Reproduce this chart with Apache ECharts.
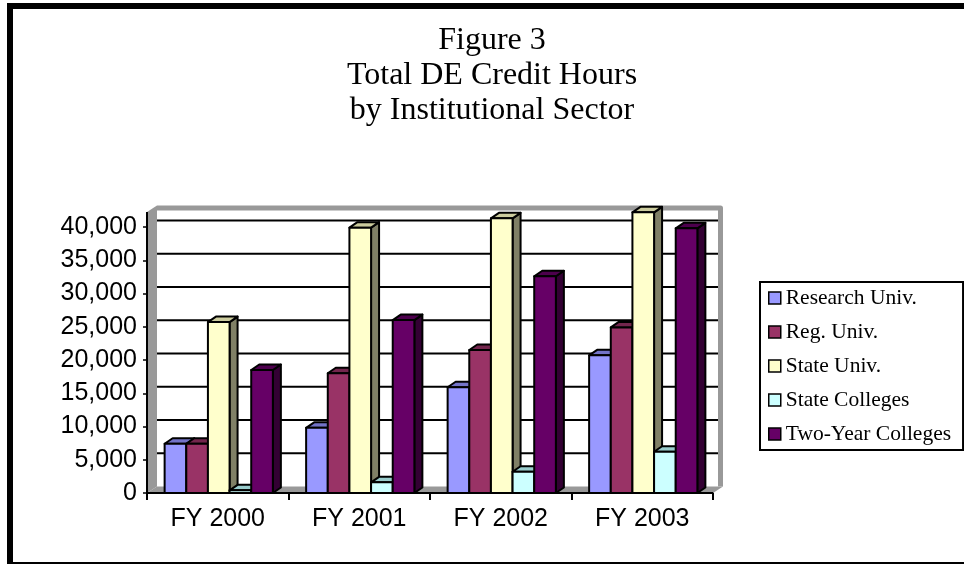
<!DOCTYPE html>
<html>
<head>
<meta charset="utf-8">
<script src="https://cdn.jsdelivr.net/npm/echarts@6/dist/echarts.min.js"></script>
<style>
  html, body { margin: 0; padding: 0; background: #fff; }
  #chart { width: 964px; height: 564px; }
</style>
</head>
<body>
<div id="chart"></div>
<script>
const categories = ['FY 2000', 'FY 2001', 'FY 2002', 'FY 2003'];
const sectorNames = ['Research Univ.', 'Reg. Univ.', 'State Univ.', 'State Colleges', 'Two-Year Colleges'];

const researchUniv = [7400, 9800, 15900, 20700];
const regUniv = [7400, 18000, 21500, 24900];
const stateUniv = [25700, 39900, 41300, 42200];
const stateColleges = [400, 1600, 3200, 6200];
const twoYearColleges = [18500, 26000, 32600, 39800];

const yTickLabels = ['0', '5,000', '10,000', '15,000', '20,000', '25,000', '30,000', '35,000', '40,000'];
const yStep = 5000;
const yMax = 40000;

// front face, top face, side face
const palette = [
  ['#9999FF', '#7373C8', '#5C5CA8'],
  ['#993366', '#73264D', '#4D1A33'],
  ['#FFFFCC', '#CCCC9E', '#808066'],
  ['#CCFFFF', '#99CCCC', '#669999'],
  ['#660066', '#4D004D', '#330033']
];
const sectorData = [researchUniv, regUniv, stateUniv, stateColleges, twoYearColleges];

const serif = '"Liberation Serif", "Times New Roman", serif';
const sans = '"Liberation Sans", Arial, sans-serif';

function renderWalls(params, api) {
  const band = api.size([1, 0])[0];
  const p0 = api.coord([0, 0]);
  const pn = api.coord([categories.length - 1, 0]);
  const xl = p0[0] - band / 2;
  const xr = pn[0] + band / 2;
  const yb = p0[1];
  const yt = api.coord([0, yMax])[1] - 15;
  const dx = 10, dy = -6.5;
  const children = [
    { type: 'rect', shape: { x: xl + dx, y: yt + dy, width: xr - xl, height: yb - yt }, style: { fill: '#fff' } }
  ];
  for (let v = yStep; v <= yMax; v += yStep) {
    const y = api.coord([0, v])[1];
    children.push({ type: 'line', shape: { x1: xl + dx, y1: y + dy, x2: xr + dx - 4, y2: y + dy }, style: { stroke: '#000', lineWidth: 2 } });
    children.push({ type: 'line', shape: { x1: xl, y1: y, x2: xl + 4, y2: y - 3 }, style: { stroke: '#000', lineWidth: 1 } });
  }
  children.push(
    { type: 'polyline', shape: { points: [[xl + dx, yt + dy + 2.5], [xr + dx - 2.5, yt + dy + 2.5], [xr + dx - 2.5, yb + dy]] },
      style: { stroke: '#999', lineWidth: 5, fill: null, lineJoin: 'round' } },
    { type: 'polygon', shape: { points: [[xl, yb], [xl, yt], [xl + dx, yt + dy], [xl + dx, yb + dy]] }, style: { fill: '#999' } },
    { type: 'polygon', shape: { points: [[xl, yb], [xr, yb], [xr + dx, yb + dy], [xl + dx, yb + dy]] }, style: { fill: '#999' } },
    { type: 'line', shape: { x1: xl, y1: yb, x2: xl, y2: yt }, style: { stroke: '#000', lineWidth: 2 } },
    { type: 'line', shape: { x1: xl, y1: yb, x2: xr, y2: yb }, style: { stroke: '#000', lineWidth: 2 } }
  );
  return { type: 'group', children: children };
}

function barRenderer(k) {
  return function (params, api) {
    const c = api.value(0);
    const v = api.value(1);
    const top = api.coord([c, v]);
    const base = api.coord([c, 0]);
    const band = api.size([1, 0])[0];
    const w = band * 0.153;
    const x0 = top[0] - 2.5 * w + k * w + 1;
    const dx = 8, dy = -5.5;
    const cols = palette[k];
    const line = { stroke: '#000', lineWidth: 2, lineJoin: 'round' };
    return {
      type: 'group',
      children: [
        { type: 'polygon', shape: { points: [[x0 + w, top[1]], [x0 + w + dx, top[1] + dy], [x0 + w + dx, base[1] + dy], [x0 + w, base[1]]] },
          style: Object.assign({ fill: cols[2] }, line) },
        { type: 'polygon', shape: { points: [[x0, top[1]], [x0 + dx, top[1] + dy], [x0 + w + dx, top[1] + dy], [x0 + w, top[1]]] },
          style: Object.assign({ fill: cols[1] }, line) },
        { type: 'rect', shape: { x: x0, y: top[1], width: w, height: base[1] - top[1] },
          style: Object.assign({ fill: cols[0] }, line) }
      ]
    };
  };
}

const series = [{
  name: 'walls',
  type: 'custom',
  silent: true,
  renderItem: renderWalls,
  data: [[0, 0]]
}];
sectorNames.forEach(function (name, k) {
  series.push({
    name: name,
    type: 'custom',
    renderItem: barRenderer(k),
    itemStyle: { color: palette[k][0], borderColor: '#000', borderWidth: 1.5 },
    encode: { x: 0, y: 1 },
    data: sectorData[k].map(function (v, i) { return [i, v]; })
  });
});

const option = {
  animation: false,
  backgroundColor: '#fff',
  title: {
    text: 'Figure 3\nTotal DE Credit Hours\nby Institutional Sector',
    left: 492,
    top: 23,
    textAlign: 'center',
    padding: 0,
    textStyle: { fontFamily: serif, fontSize: 32, fontWeight: 'normal', lineHeight: 35, color: '#000' }
  },
  legend: {
    data: sectorNames,
    orient: 'vertical',
    left: 760,
    top: 282,
    icon: 'rect',
    itemWidth: 12,
    itemHeight: 12,
    itemGap: 12,
    padding: [5, 12, 5, 8],
    borderColor: '#000',
    borderWidth: 2,
    itemStyle: { borderColor: '#000', borderWidth: 1.5 },
    textStyle: { fontFamily: serif, fontSize: 21.5, lineHeight: 22, color: '#000' }
  },
  grid: { left: 147, right: 251, top: 227, bottom: 71 },
  xAxis: {
    type: 'category',
    data: categories,
    axisLine: { show: true, lineStyle: { color: '#000', width: 2 } },
    axisTick: { show: true, length: 7, lineStyle: { color: '#000', width: 2 } },
    axisLabel: { fontFamily: sans, fontSize: 25, color: '#000', margin: 14 },
    splitLine: { show: false }
  },
  yAxis: {
    type: 'value',
    min: 0,
    max: yMax,
    interval: yStep,
    axisLine: { show: true, lineStyle: { color: '#000', width: 2 } },
    axisTick: { show: true, length: 4, lineStyle: { color: '#000', width: 1.5 } },
    axisLabel: {
      fontFamily: sans, fontSize: 25, color: '#000', margin: 10,
      formatter: function (v) { return yTickLabels[Math.round(v / yStep)]; }
    },
    splitLine: { show: false }
  },
  graphic: [
    { type: 'rect', left: 7, top: 3, shape: { width: 957, height: 6 }, style: { fill: '#000' } },
    { type: 'rect', left: 7, top: 3, shape: { width: 6, height: 561 }, style: { fill: '#000' } },
    { type: 'rect', left: 7, top: 562, shape: { width: 957, height: 2 }, style: { fill: '#000' } }
  ],
  series: series
};

const chart = echarts.init(document.getElementById('chart'));
chart.setOption(option);
</script>
</body>
</html>
